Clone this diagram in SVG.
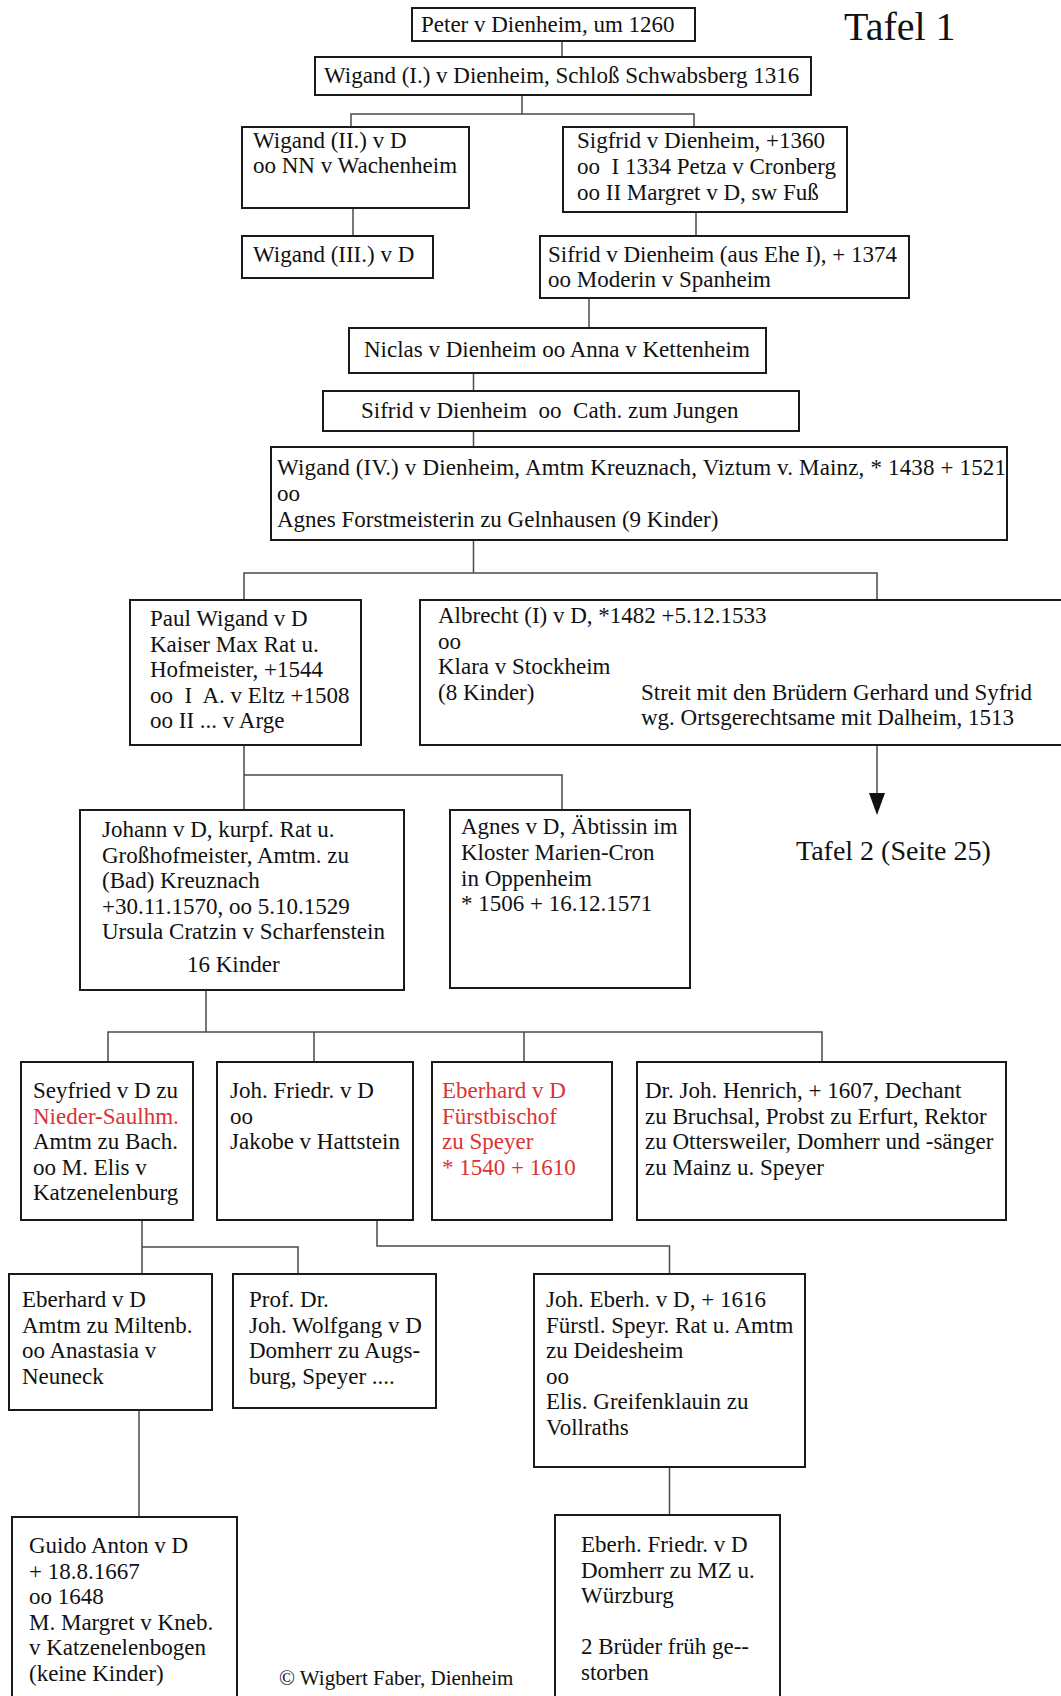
<svg xmlns="http://www.w3.org/2000/svg" width="1061" height="1696" viewBox="0 0 1061 1696">
<style>
.box{fill:#fff;stroke:#1a1a1a;stroke-width:2}
.t{font-family:"Liberation Serif","Times New Roman",serif;font-size:23px;fill:#111}
.red{fill:#d93434}
.c{fill:none;stroke:#4a4a4a;stroke-width:1.5}
</style>
<rect width="1061" height="1696" fill="#fff"/>

<g id="connectors">
<path class="c" d="M562,41 V57"/>
<path class="c" d="M522,95 V114 M351,127 V114 H694 V127"/>
<path class="c" d="M353,208 V236"/>
<path class="c" d="M696,212 V236"/>
<path class="c" d="M589,298 V328"/>
<path class="c" d="M473.5,373 V391"/>
<path class="c" d="M473.5,431 V447"/>
<path class="c" d="M473.5,540 V573 M244,600 V573 H877 V600"/>
<path class="c" d="M877,745 V793" stroke="#111"/>
<path d="M869,793 L885,793 L877,815 Z" fill="#111"/>
<path class="c" d="M244,745 V775 M244,810 V775 H562 V810"/>
<path class="c" d="M206,990 V1032 M108,1062 V1032 H822 V1062 M314,1032 V1062 M524,1032 V1062"/>
<path class="c" d="M142,1220 V1247 M142,1274 V1247 H298 V1274"/>
<path class="c" d="M377,1220 V1246 H669.5 V1274"/>
<path class="c" d="M139,1410 V1517"/>
<path class="c" d="M669.5,1467 V1515"/>
</g>

<text class="t" x="844" y="40" style="font-size:40px">Tafel 1</text>
<text class="t" x="796" y="860" style="font-size:28px">Tafel 2 (Seite 25)</text>
<text class="t" x="279" y="1685" style="font-size:21px">© Wigbert Faber, Dienheim</text>

<g id="n-peter">
<rect class="box" x="412" y="8" width="283" height="33"/>
<text class="t" x="421" y="32">Peter v Dienheim, um 1260</text>
</g>
<g id="n-wigand1">
<rect class="box" x="315" y="57" width="496" height="38"/>
<text class="t" x="324" y="83">Wigand (I.) v Dienheim, Schloß Schwabsberg 1316</text>
</g>
<g id="n-wigand2">
<rect class="box" x="242" y="127" width="227" height="81"/>
<text class="t" x="253" y="148">Wigand (II.) v D</text>
<text class="t" x="253" y="173">oo NN v Wachenheim</text>
</g>
<g id="n-sigfrid">
<rect class="box" x="563" y="127" width="284" height="85"/>
<text class="t" x="577" y="148">Sigfrid v Dienheim, +1360</text>
<text class="t" x="577" y="174" xml:space="preserve">oo  I 1334 Petza v Cronberg</text>
<text class="t" x="577" y="200">oo II Margret v D, sw Fuß</text>
</g>
<g id="n-wigand3">
<rect class="box" x="242" y="236" width="191" height="42"/>
<text class="t" x="253" y="262">Wigand (III.) v D</text>
</g>
<g id="n-sifrid">
<rect class="box" x="540" y="236" width="369" height="62"/>
<text class="t" x="548" y="262">Sifrid v Dienheim (aus Ehe I), + 1374</text>
<text class="t" x="548" y="287">oo Moderin v Spanheim</text>
</g>
<g id="n-niclas">
<rect class="box" x="349" y="328" width="417" height="45"/>
<text class="t" x="364" y="357">Niclas v Dienheim oo Anna v Kettenheim</text>
</g>
<g id="n-sifrid2">
<rect class="box" x="323" y="391" width="476" height="40"/>
<text class="t" x="361" y="418" xml:space="preserve">Sifrid v Dienheim  oo  Cath. zum Jungen</text>
</g>
<g id="n-wigand4">
<rect class="box" x="271" y="447" width="736" height="93"/>
<text class="t" x="277" y="475" textLength="729" lengthAdjust="spacing">Wigand (IV.) v Dienheim, Amtm Kreuznach, Viztum v. Mainz, * 1438 + 1521</text>
<text class="t" x="277" y="501">oo</text>
<text class="t" x="277" y="527">Agnes Forstmeisterin zu Gelnhausen (9 Kinder)</text>
</g>
<g id="n-paul">
<rect class="box" x="130" y="600" width="231" height="145"/>
<text class="t" x="150" y="626">Paul Wigand v D</text>
<text class="t" x="150" y="651.5">Kaiser Max Rat u.</text>
<text class="t" x="150" y="677">Hofmeister, +1544</text>
<text class="t" x="150" y="702.5" xml:space="preserve">oo  I  A. v Eltz +1508</text>
<text class="t" x="150" y="728">oo II ... v Arge</text>
</g>
<g id="n-albrecht">
<rect class="box" x="420" y="600" width="660" height="145"/>
<text class="t" x="438" y="623">Albrecht (I) v D, *1482 +5.12.1533</text>
<text class="t" x="438" y="648.5">oo</text>
<text class="t" x="438" y="674">Klara v Stockheim</text>
<text class="t" x="438" y="699.5">(8 Kinder)</text>
<text class="t" x="641" y="699.5">Streit mit den Brüdern Gerhard und Syfrid</text>
<text class="t" x="641" y="725">wg. Ortsgerechtsame mit Dalheim, 1513</text>
</g>
<g id="n-johann">
<rect class="box" x="80" y="810" width="324" height="180"/>
<text class="t" x="102" y="837">Johann v D, kurpf. Rat u.</text>
<text class="t" x="102" y="862.5">Großhofmeister, Amtm. zu</text>
<text class="t" x="102" y="888">(Bad) Kreuznach</text>
<text class="t" x="102" y="913.5">+30.11.1570, oo 5.10.1529</text>
<text class="t" x="102" y="939">Ursula Cratzin v Scharfenstein</text>
<text class="t" x="187" y="972">16 Kinder</text>
</g>
<g id="n-agnes">
<rect class="box" x="450" y="810" width="240" height="178"/>
<text class="t" x="461" y="834">Agnes v D, Äbtissin im</text>
<text class="t" x="461" y="860">Kloster Marien-Cron</text>
<text class="t" x="461" y="886">in Oppenheim</text>
<text class="t" x="461" y="911">* 1506 + 16.12.1571</text>
</g>
<g id="n-seyfried">
<rect class="box" x="21" y="1062" width="172" height="158"/>
<text class="t" x="33" y="1098">Seyfried v D zu</text>
<text class="t red" x="33" y="1123.5">Nieder-Saulhm.</text>
<text class="t" x="33" y="1149">Amtm zu Bach.</text>
<text class="t" x="33" y="1174.5">oo M. Elis v</text>
<text class="t" x="33" y="1200">Katzenelenburg</text>
</g>
<g id="n-johfriedr">
<rect class="box" x="217" y="1062" width="196" height="158"/>
<text class="t" x="230" y="1098">Joh. Friedr. v D</text>
<text class="t" x="230" y="1123.5">oo</text>
<text class="t" x="230" y="1149">Jakobe v Hattstein</text>
</g>
<g id="n-eberhard">
<rect class="box" x="432" y="1062" width="180" height="158"/>
<text class="t red" x="442" y="1098">Eberhard v D</text>
<text class="t red" x="442" y="1123.5">Fürstbischof</text>
<text class="t red" x="442" y="1149">zu Speyer</text>
<text class="t red" x="442" y="1174.5">* 1540 + 1610</text>
</g>
<g id="n-henrich">
<rect class="box" x="637" y="1062" width="369" height="158"/>
<text class="t" x="645" y="1098">Dr. Joh. Henrich, + 1607, Dechant</text>
<text class="t" x="645" y="1123.5">zu Bruchsal, Probst zu Erfurt, Rektor</text>
<text class="t" x="645" y="1149">zu Ottersweiler, Domherr und -sänger</text>
<text class="t" x="645" y="1174.5">zu Mainz u. Speyer</text>
</g>
<g id="n-eberhard2">
<rect class="box" x="9" y="1274" width="203" height="136"/>
<text class="t" x="22" y="1307">Eberhard v D</text>
<text class="t" x="22" y="1332.5">Amtm zu Miltenb.</text>
<text class="t" x="22" y="1358">oo Anastasia v</text>
<text class="t" x="22" y="1383.5">Neuneck</text>
</g>
<g id="n-prof">
<rect class="box" x="233" y="1274" width="203" height="134"/>
<text class="t" x="249" y="1307">Prof. Dr.</text>
<text class="t" x="249" y="1332.5">Joh. Wolfgang v D</text>
<text class="t" x="249" y="1358">Domherr zu Augs-</text>
<text class="t" x="249" y="1383.5">burg, Speyer ....</text>
</g>
<g id="n-joheberh">
<rect class="box" x="534" y="1274" width="271" height="193"/>
<text class="t" x="546" y="1307">Joh. Eberh. v D, + 1616</text>
<text class="t" x="546" y="1332.5">Fürstl. Speyr. Rat u. Amtm</text>
<text class="t" x="546" y="1358">zu Deidesheim</text>
<text class="t" x="546" y="1383.5">oo</text>
<text class="t" x="546" y="1409">Elis. Greifenklauin zu</text>
<text class="t" x="546" y="1434.5">Vollraths</text>
</g>
<g id="n-guido">
<rect class="box" x="12" y="1517" width="225" height="200"/>
<text class="t" x="29" y="1553">Guido Anton v D</text>
<text class="t" x="29" y="1578.5">+ 18.8.1667</text>
<text class="t" x="29" y="1604">oo 1648</text>
<text class="t" x="29" y="1629.5">M. Margret v Kneb.</text>
<text class="t" x="29" y="1655">v Katzenelenbogen</text>
<text class="t" x="29" y="1680.5">(keine Kinder)</text>
</g>
<g id="n-eberhfriedr">
<rect class="box" x="555" y="1515" width="225" height="200"/>
<text class="t" x="581" y="1552">Eberh. Friedr. v D</text>
<text class="t" x="581" y="1577.5">Domherr zu MZ u.</text>
<text class="t" x="581" y="1603">Würzburg</text>
<text class="t" x="581" y="1654">2 Brüder früh ge--</text>
<text class="t" x="581" y="1679.5">storben</text>
</g>
</svg>
